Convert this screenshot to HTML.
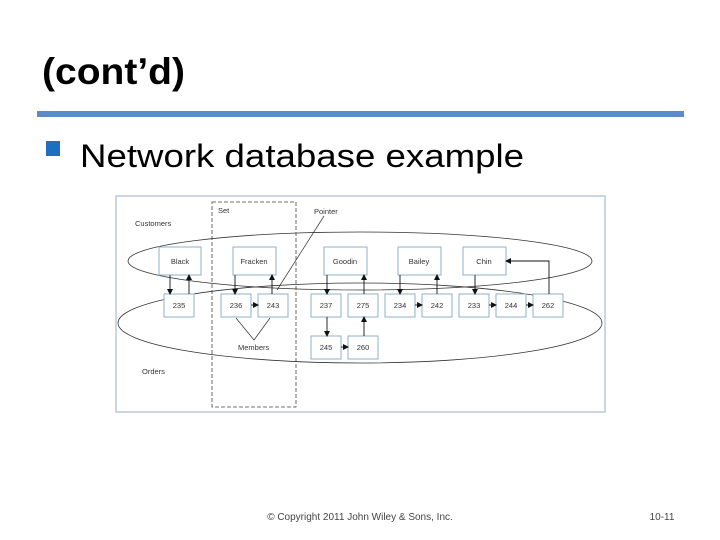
<!DOCTYPE html>
<html><head><meta charset="utf-8"><style>
html,body{margin:0;padding:0;background:#fff;}
svg{display:block;}
</style></head><body>
<svg width="720" height="540" viewBox="0 0 720 540" xmlns="http://www.w3.org/2000/svg" font-family="Liberation Sans, sans-serif">
<defs>
<marker id="a" markerWidth="6" markerHeight="6" refX="5" refY="3" orient="auto" markerUnits="userSpaceOnUse"><path d="M0,0 L6,3 L0,6 z" fill="#111"/></marker>
</defs>
<text x="42" y="84" font-size="37" font-weight="bold" textLength="143" lengthAdjust="spacingAndGlyphs">(cont’d)</text>
<rect x="37" y="111" width="647" height="6" fill="#5b8bc9"/>
<rect x="46" y="141" width="14" height="15" fill="#1f6fc0"/>
<text x="80" y="167" font-size="32" textLength="444" lengthAdjust="spacingAndGlyphs">Network database example</text>

<rect x="116" y="196" width="489" height="216" fill="#fff" stroke="#b8c8d8" stroke-width="1.5"/>
<rect x="212" y="202" width="84" height="205" fill="none" stroke="#444" stroke-dasharray="4,2" stroke-width="0.8"/>
<g font-size="7.5" fill="#333">
<text x="218" y="213">Set</text>
<text x="314" y="214">Pointer</text>
<text x="135" y="226">Customers</text>
<text x="142" y="374">Orders</text>
<text x="238" y="350">Members</text>
</g>
<line x1="324" y1="216" x2="277" y2="290" stroke="#333" stroke-width="0.7"/>
<polyline points="236,318 254,340 270,318" fill="none" stroke="#333" stroke-width="0.7"/>
<ellipse cx="360" cy="261" rx="232" ry="29" fill="none" stroke="#333" stroke-width="0.8"/>
<ellipse cx="360" cy="323" rx="242" ry="40" fill="none" stroke="#333" stroke-width="0.8"/>

<g fill="#fff" stroke="#8fb0c8" stroke-width="1">
<rect x="159" y="247" width="42" height="28"/>
<rect x="233" y="247" width="43" height="28"/>
<rect x="324" y="247" width="43" height="28"/>
<rect x="398" y="247" width="43" height="28"/>
<rect x="463" y="247" width="43" height="28"/>
<rect x="164" y="294" width="30" height="23"/>
<rect x="221" y="294" width="30" height="23"/>
<rect x="258" y="294" width="30" height="23"/>
<rect x="311" y="294" width="30" height="23"/>
<rect x="348" y="294" width="30" height="23"/>
<rect x="385" y="294" width="30" height="23"/>
<rect x="422" y="294" width="30" height="23"/>
<rect x="459" y="294" width="30" height="23"/>
<rect x="496" y="294" width="30" height="23"/>
<rect x="533" y="294" width="30" height="23"/>
<rect x="311" y="336" width="30" height="23"/>
<rect x="348" y="336" width="30" height="23"/>
</g>
<g font-size="7.5" fill="#333" text-anchor="middle">
<text x="180" y="264">Black</text>
<text x="254" y="264">Fracken</text>
<text x="345" y="264">Goodin</text>
<text x="419" y="264">Bailey</text>
<text x="484" y="264">Chin</text>
<text x="179" y="308">235</text>
<text x="236" y="308">236</text>
<text x="273" y="308">243</text>
<text x="326" y="308">237</text>
<text x="363" y="308">275</text>
<text x="400" y="308">234</text>
<text x="437" y="308">242</text>
<text x="474" y="308">233</text>
<text x="511" y="308">244</text>
<text x="548" y="308">262</text>
<text x="326" y="350">245</text>
<text x="363" y="350">260</text>
</g>
<g stroke="#111" stroke-width="0.9" marker-end="url(#a)">
<line x1="170" y1="275" x2="170" y2="294"/>
<line x1="189" y1="294" x2="189" y2="275"/>
<line x1="235" y1="275" x2="235" y2="294"/>
<line x1="272" y1="294" x2="272" y2="275"/>
<line x1="327" y1="275" x2="327" y2="294"/>
<line x1="364" y1="294" x2="364" y2="275"/>
<line x1="400" y1="275" x2="400" y2="294"/>
<line x1="437" y1="294" x2="437" y2="275"/>
<line x1="475" y1="275" x2="475" y2="294"/>
<polyline points="549,294 549,261 506,261" fill="none"/>
<line x1="251" y1="305" x2="258" y2="305"/>
<line x1="415" y1="305" x2="422" y2="305"/>
<line x1="489" y1="305" x2="496" y2="305"/>
<line x1="526" y1="305" x2="533" y2="305"/>
<line x1="341" y1="347" x2="348" y2="347"/>
<line x1="327" y1="317" x2="327" y2="336"/>
<line x1="364" y1="336" x2="364" y2="317"/>
</g>

<text x="360" y="520" font-size="10" fill="#444" text-anchor="middle">© Copyright 2011 John Wiley &amp; Sons, Inc.</text>
<text x="662" y="520" font-size="10" fill="#444" text-anchor="middle">10-11</text>
</svg>
</body></html>
